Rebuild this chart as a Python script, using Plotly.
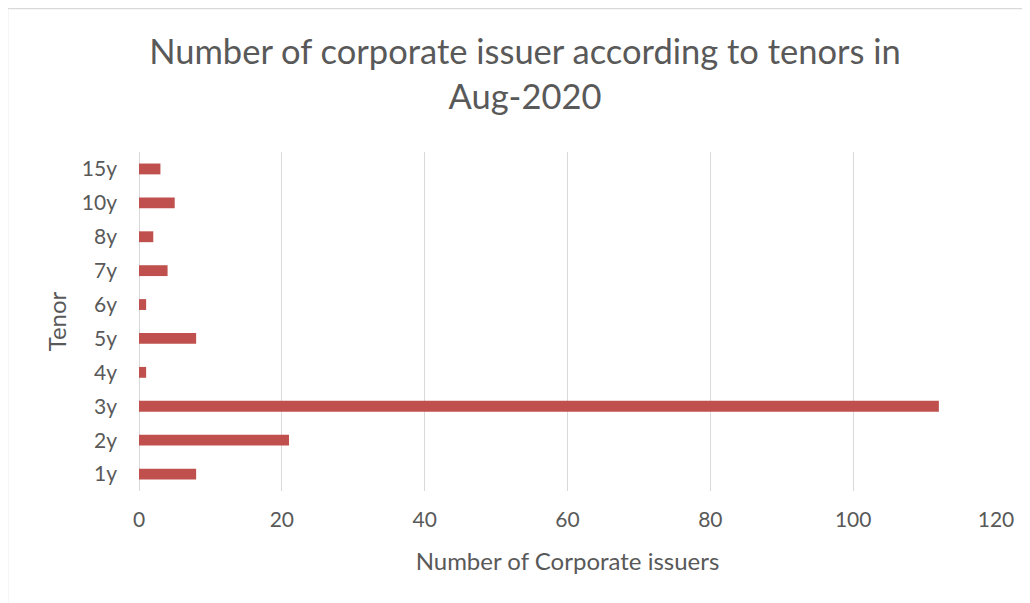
import plotly.graph_objects as go

tenors = ["1y", "2y", "3y", "4y", "5y", "6y", "7y", "8y", "10y", "15y"]
issuers = [8, 21, 112, 1, 8, 1, 4, 2, 5, 3]
x_ticks = [0, 20, 40, 60, 80, 100, 120]

# page body has an 8px margin; figure coordinates are page coords - 8
W, H = 1022, 595
L, R, T, B = 131, 34, 144, 112
pw, ph = W - L - R, H - T - B

def px(x):
    return (x - L) / pw

def py(y):
    return (H - B - y) / ph

fig = go.Figure(go.Bar(
    y=tenors, x=issuers, orientation="h",
    marker=dict(color="#C0504D", line=dict(width=0)),
    width=0.32,
))

font_family = "Lato, Open Sans, sans-serif"
fig.update_layout(
    width=W, height=H,
    margin=dict(l=L, r=R, t=T, b=B),
    paper_bgcolor="white", plot_bgcolor="white",
    showlegend=False,
    font=dict(family=font_family, color="#595959"),
    title=dict(
        text="Number of corporate issuer according to tenors in<br>Aug-2020",
        x=517 / W, xanchor="center", xref="container",
        y=1 - 56 / H, yanchor="top",
        font=dict(size=34.5, color="#595959", family=font_family),
    ),
    xaxis=dict(
        range=[0, 120], tickvals=x_ticks, showgrid=True,
        gridcolor="#D9D9D9", gridwidth=1, zeroline=False,
        showline=False, ticks="", tickfont=dict(size=21, color="#595959"),
        ticklabelstandoff=14,
        title=dict(text="Number of Corporate issuers", font=dict(size=24, color="#595959"), standoff=23),
    ),
    yaxis=dict(
        categoryorder="array", categoryarray=tenors,
        showgrid=False, zeroline=False, showline=False, ticks="",
        tickfont=dict(size=21, color="#595959"),
        ticklabelstandoff=21,
        title=dict(text="Tenor", font=dict(size=24, color="#595959"), standoff=8),
    ),
    shapes=[
        dict(type="line", xref="x", yref="paper", x0=0, x1=0, y0=0, y1=1,
             line=dict(color="#D9D9D9", width=2), layer="below"),
        dict(type="rect", xref="paper", yref="paper",
             x0=px(-0.5), x1=px(1040), y0=py(0.5), y1=py(620),
             line=dict(color="#D9D9D9", width=1.5), fillcolor="rgba(0,0,0,0)"),
    ],
)

fig.write_html("out.html")
